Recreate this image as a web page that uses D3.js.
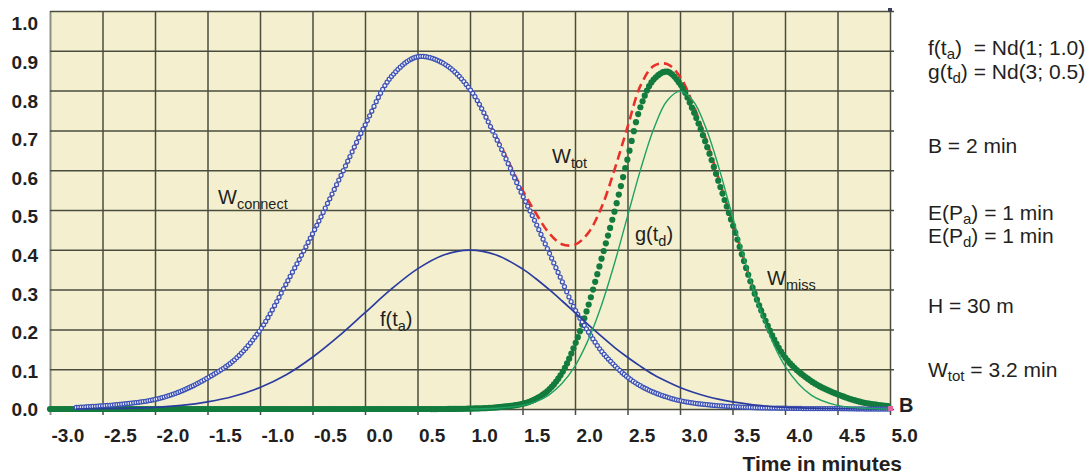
<!DOCTYPE html>
<html>
<head>
<meta charset="utf-8">
<script src="https://cdn.jsdelivr.net/npm/d3@7"></script>
<style>
  body { margin: 0; background: #fff; }
  text { font-family: "Liberation Sans", Arial, sans-serif; fill: #231f20; }
</style>
</head>
<body>
<script>
var w = 1091, h = 475;

// time axis (minutes)
var times = [-3, -2.75, -2.5, -2.25, -2, -1.75, -1.5, -1.25, -1, -0.75, -0.5, -0.25, 0, 0.25, 0.5, 0.75, 1, 1.25,
	1.5, 1.625, 1.75, 1.875, 2, 2.125, 2.25, 2.375, 2.5, 2.625, 2.75, 2.875, 3, 3.125, 3.25, 3.375, 3.5,
	3.75, 4, 4.25, 4.5, 4.75, 5];

// f(ta) - arrival density
var fArrival = [null, 0.000, 0.001, 0.002, 0.004, 0.009, 0.018, 0.032, 0.054, 0.086, 0.130, 0.183, 0.242, 0.301, 0.352, 0.387, 0.399, 0.387,
	0.352, 0.328, 0.301, 0.272, 0.242, 0.212, 0.183, 0.155, 0.130, 0.107, 0.086, 0.069, 0.054, 0.042, 0.032, 0.024, 0.018,
	0.009, 0.004, 0.002, 0.001, 0.000, 0.000];

// g(td) - departure density
var gDeparture = [null, null, null, null, null, null, null, null, null, null, null, null, null, null, null, null, 0.000, 0.002,
	0.009, 0.018, 0.035, 0.064, 0.108, 0.173, 0.259, 0.365, 0.484, 0.602, 0.704, 0.774, 0.798, 0.774, 0.704, 0.602, 0.484,
	0.259, 0.108, 0.035, 0.009, 0.002, 0.000];

// W connect
var wConnect = [null, 0.004, 0.008, 0.014, 0.024, 0.045, 0.078, 0.122, 0.198, 0.315, 0.440, 0.575, 0.713, 0.835, 0.885, 0.868, 0.803, 0.680,
	0.537, 0.468, 0.395, 0.322, 0.250, 0.195, 0.146, 0.110, 0.080, 0.058, 0.042, 0.030, 0.021, 0.015, 0.011, 0.008, 0.006,
	0.003, 0.002, 0.001, 0.001, 0.000, 0.000];

// W miss
var wMiss = [0, 0, 0, 0, 0, 0, 0, 0, 0, 0, 0, 0, 0, 0, 0, 0, 0.001, 0.004,
	0.013, 0.025, 0.048, 0.090, 0.162, 0.258, 0.375, 0.495, 0.628, 0.760, 0.828, 0.848, 0.817, 0.750, 0.665, 0.565, 0.465,
	0.263, 0.130, 0.070, 0.037, 0.016, 0.007];

// W tot
var wTotal = [0.002, 0.004, 0.008, 0.014, 0.024, 0.045, 0.078, 0.122, 0.198, 0.315, 0.440, 0.575, 0.713, 0.835, 0.885, 0.868, 0.804, 0.684,
	0.550, 0.493, 0.443, 0.414, 0.413, 0.442, 0.505, 0.600, 0.708, 0.813, 0.862, 0.867, 0.835, 0.765, 0.676, 0.573, 0.471,
	0.266, 0.132, 0.071, 0.038, 0.016, 0.007];

var xTicks = [-3, -2.5, -2, -1.5, -1, -0.5, 0, 0.5, 1, 1.5, 2, 2.5, 3, 3.5, 4, 4.5, 5];
var xTickLabels = ["-3.0", "-2.5", "-2.0", "-1.5", "-1.0", "-0.5", "0.0", "0.5", "1.0", "1.5", "2.0", "2.5", "3.0", "3.5", "4.0", "4.5", "5.0"];
var yTicks = [0, 0.1, 0.2, 0.3, 0.4, 0.5, 0.6, 0.7, 0.8, 0.9, 1.0];
var yTickLabels = ["0.0", "0.1", "0.2", "0.3", "0.4", "0.5", "0.6", "0.7", "0.8", "0.9", "1.0"];

var gridColour = "#4a4c3e";

var svg = d3.select("body").append("svg")
	.attr("width", w)
	.attr("height", h);

// Scales
var x = d3.scaleLinear().domain([-3, 5]).range([50, 890]);
var y = d3.scaleLinear().domain([0, 1]).range([409, 11]);
var yLab = d3.scaleLinear().domain([0, 1]).range([409, 23]); // labels sit on their own, slightly tighter scale

// Plot background
svg.append("rect")
	.attr("x", x(-3))
	.attr("y", y(1))
	.attr("width", x(5) - x(-3))
	.attr("height", y(0) - y(1))
	.attr("fill", "#f4f0cf");

// Vertical grid (with small ticks below the base line)
svg.append("g")
	.attr("transform", "translate(0," + (y(0) + 6) + ")")
	.call(d3.axisBottom(x).tickValues(xTicks).tickSize(-(y(0) + 6 - y(1))).tickFormat(""))
	.call(function(g) { g.select(".domain").remove(); })
	.selectAll("line")
		.attr("stroke", function(d) { return d === -3 ? "#8d8f85" : gridColour; })
		.attr("stroke-width", function(d) { return d === -3 ? 2 : 1.5; });

// Horizontal grid
svg.append("g")
	.attr("transform", "translate(" + (x(5) + 4) + ",0)")
	.call(d3.axisLeft(y).tickValues(yTicks).tickSize(x(5) + 4 - x(-3)).tickFormat(""))
	.call(function(g) { g.select(".domain").remove(); })
	.selectAll("line")
		.attr("stroke", gridColour)
		.attr("stroke-width", 1.5);

// Tick labels
var xAxis = svg.append("g")
	.attr("transform", "translate(0," + y(0) + ")")
	.call(d3.axisBottom(x).tickValues(xTicks).tickSize(0).tickFormat(function(d, i) { return xTickLabels[i]; }));
xAxis.select(".domain").remove();
xAxis.selectAll("text")
	.attr("text-anchor", "start")
	.attr("x", 1)
	.attr("y", 33)
	.attr("dy", null)
	.attr("font-size", 19)
	.attr("font-weight", "bold")
	.attr("font-family", "'Liberation Sans', Arial, sans-serif");

var yAxis = svg.append("g")
	.attr("transform", "translate(38,0)")
	.call(d3.axisLeft(yLab).tickValues(yTicks).tickSize(0).tickFormat(function(d, i) { return yTickLabels[i]; }));
yAxis.select(".domain").remove();
yAxis.selectAll("text")
	.attr("x", 0)
	.attr("dy", "0.36em")
	.attr("font-size", 19)
	.attr("font-weight", "bold")
	.attr("font-family", "'Liberation Sans', Arial, sans-serif");

// Line generator
var lineFor = function(values) {
	return d3.line()
		.defined(function(d, i) { return values[i] !== null; })
		.x(function(d, i) { return x(times[i]); })
		.y(function(d, i) { return y(values[i]); })
		.curve(d3.curveCatmullRom.alpha(0.5))(times);
};

// markers every 0.02 min along a drawn curve
var sampleByX = function(node, step) {
	var len = node.getTotalLength(), pts = [], nextX = -Infinity;
	for (var s = 0; s <= len; s += 0.4) {
		var p = node.getPointAtLength(s);
		if (p.x >= nextX) { pts.push([p.x, p.y]); nextX = p.x + step; }
	}
	return pts;
};
var markerStep = x(0.02) - x(0);

// W tot (red dashed)
svg.append("path")
	.attr("d", lineFor(wTotal))
	.attr("fill", "none")
	.attr("stroke", "#e8312b")
	.attr("stroke-width", 2.6)
	.attr("stroke-dasharray", "9,5");

// W miss (green dots)
var missPath = svg.append("path")
	.attr("d", lineFor(wMiss))
	.attr("fill", "none")
	.attr("stroke", "none");
svg.append("g").attr("class", "miss")
	.selectAll("circle")
	.data(sampleByX(missPath.node(), markerStep))
	.enter()
	.append("circle")
		.attr("cx", function(d) { return d[0]; })
		.attr("cy", function(d) { return d[1]; })
		.attr("r", 3.1)
		.attr("fill", "#127b3d");

// W connect (hollow blue circles)
var connectPath = svg.append("path")
	.attr("d", lineFor(wConnect))
	.attr("fill", "none")
	.attr("stroke", "none");
svg.append("g").attr("class", "connect")
	.selectAll("circle")
	.data(sampleByX(connectPath.node(), markerStep))
	.enter()
	.append("circle")
		.attr("cx", function(d) { return d[0]; })
		.attr("cy", function(d) { return d[1]; })
		.attr("r", 2)
		.attr("fill", "#f4f4ff")
		.attr("stroke", "#3d52b4")
		.attr("stroke-width", 1.25);

// f(ta)
svg.append("path")
	.attr("d", lineFor(fArrival))
	.attr("fill", "none")
	.attr("stroke", "#2c3c9e")
	.attr("stroke-width", 1.7);

// g(td)
svg.append("path")
	.attr("d", lineFor(gDeparture))
	.attr("fill", "none")
	.attr("stroke", "#1fa163")
	.attr("stroke-width", 1.4);

// end markers
svg.append("rect")
	.attr("x", x(5) - 2).attr("y", y(0) - 3)
	.attr("width", 5).attr("height", 5)
	.attr("fill", "#e0679d");
svg.append("rect")
	.attr("x", x(5) - 2).attr("y", y(1) - 3)
	.attr("width", 4).attr("height", 4)
	.attr("fill", "#3b3f55");

// Curve labels: [main, subscript, after, t, value]
var curveLabels = [
	["W", "connect", "", -1.4, 0.515],
	["f(t", "a", ")", 0.143, 0.2085],
	["W", "tot", "", 1.781, 0.618],
	["g(t", "d", ")", 2.571, 0.422],
	["W", "miss", "", 3.829, 0.3116]
];

var writeSub = function(t, main, sub, after, subSize, shift) {
	t.append("tspan").text(main);
	t.append("tspan").attr("dy", shift).attr("font-size", subSize).text(sub);
	if (after) t.append("tspan").attr("dy", -shift).text(after);
};

curveLabels.forEach(function(l) {
	var t = svg.append("text")
		.attr("x", x(l[3]))
		.attr("y", y(l[4]))
		.attr("font-size", 20);
	writeSub(t, l[0], l[1], l[2], 14.5, 5);
});

svg.append("text")
	.attr("x", x(5.086))
	.attr("y", y(-0.0075))
	.attr("font-size", 20)
	.attr("font-weight", "bold")
	.text("B");

svg.append("text")
	.attr("x", 902)
	.attr("y", 471)
	.attr("text-anchor", "end")
	.attr("font-size", 21)
	.attr("font-weight", "bold")
	.text("Time in minutes");

// Parameter notes on the right
var notes = [
	["f(t", "a", ")  = Nd(1; 1.0)", 55],
	["g(t", "d", ") = Nd(3; 0.5)", 79],
	["B = 2 min", "", "", 153],
	["E(P", "a", ") = 1 min", 220],
	["E(P", "d", ") = 1 min", 243],
	["H = 30 m", "", "", 313],
	["W", "tot", " = 3.2 min", 377]
];

notes.forEach(function(n) {
	var t = svg.append("text")
		.attr("x", 928)
		.attr("y", n[3])
		.attr("font-size", 21)
		.style("white-space", "pre");
	if (n[1]) writeSub(t, n[0], n[1], n[2], 15, 4);
	else t.text(n[0]);
});
</script>
</body>
</html>
